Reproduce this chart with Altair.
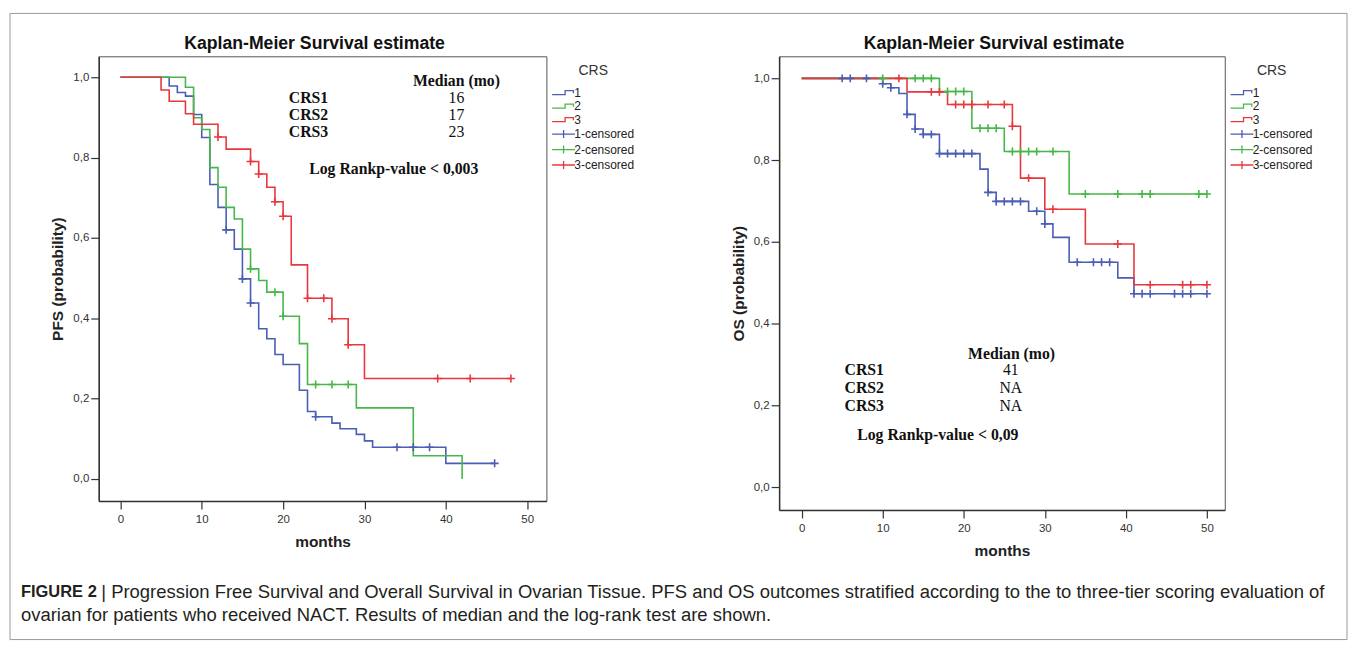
import altair as alt
import pandas as pd

BLUE = "#4b5eb4"
GREEN = "#47b74a"
RED = "#e8383d"

X_TICKS = [0, 10, 20, 30, 40, 50]
Y_TICKS = [0.0, 0.2, 0.4, 0.6, 0.8, 1.0]

# ---------------- PFS (left panel) ----------------
pfs1_t = [0, 6, 7, 8, 9, 10, 11, 12, 13, 14, 15, 16, 17, 18, 19, 20, 22, 23, 24, 26, 27, 29, 30, 31, 40, 46]
pfs1_s = [1.0, 0.978, 0.962, 0.953, 0.907, 0.850, 0.733, 0.676, 0.620, 0.572, 0.498, 0.438, 0.374, 0.349,
          0.310, 0.285, 0.221, 0.168, 0.155, 0.139, 0.125, 0.111, 0.095, 0.079, 0.039, 0.039]
pfs1_ct = [13, 15, 16, 24, 34, 36, 38, 46]
pfs1_cs = [0.620, 0.498, 0.438, 0.155, 0.079, 0.079, 0.079, 0.039]

pfs2_t = [0, 8, 9, 10, 11, 12, 13, 14, 15, 16, 17, 18, 20, 22, 23, 29, 36, 42]
pfs2_s = [1.0, 0.975, 0.899, 0.870, 0.775, 0.726, 0.676, 0.647, 0.572, 0.523, 0.494, 0.465, 0.405,
          0.337, 0.235, 0.177, 0.058, 0.0]
pfs2_ct = [16, 19, 20, 24, 26, 28]
pfs2_cs = [0.523, 0.465, 0.405, 0.235, 0.235, 0.235]

pfs3_t = [0, 5, 6, 8, 9, 12, 13, 16, 17, 18, 19, 20, 21, 23, 26, 28, 30, 48]
pfs3_s = [1.0, 0.968, 0.940, 0.909, 0.883, 0.851, 0.821, 0.790, 0.759, 0.726, 0.690, 0.654, 0.533,
          0.450, 0.399, 0.334, 0.250, 0.250]
pfs3_ct = [12, 16, 17, 19, 20, 23, 25, 26, 28, 39, 43, 48]
pfs3_cs = [0.851, 0.790, 0.759, 0.690, 0.654, 0.450, 0.450, 0.399, 0.334, 0.250, 0.250, 0.250]

# ---------------- OS (right panel) ----------------
os1_t = [0, 10, 11, 12, 13, 14, 15, 17, 22, 23, 24, 28, 30, 31, 33, 39, 41, 50]
os1_s = [1.0, 0.987, 0.977, 0.963, 0.912, 0.876, 0.863, 0.816, 0.778, 0.721, 0.699, 0.675, 0.644,
         0.611, 0.550, 0.512, 0.473, 0.473]
os1_ct = [5, 6, 8, 10, 11, 13, 14, 15, 16, 17, 18, 19, 20, 21, 23, 24, 25, 26, 27, 29, 30,
          34, 36, 37, 38, 41, 42, 43, 46, 47, 48, 50]
os1_cs = [1.0, 1.0, 1.0, 0.987, 0.977, 0.912, 0.876, 0.863, 0.863, 0.816, 0.816, 0.816, 0.816, 0.816,
          0.721, 0.699, 0.699, 0.699, 0.699, 0.675, 0.644, 0.550, 0.550, 0.550, 0.550,
          0.473, 0.473, 0.473, 0.473, 0.473, 0.473, 0.473]

os2_t = [0, 17, 21, 25, 33, 50]
os2_s = [1.0, 0.968, 0.878, 0.821, 0.717, 0.717]
os2_ct = [10, 14, 15, 16, 18, 19, 20, 22, 23, 24, 26, 27, 28, 29, 31, 35, 39, 42, 43, 49, 50]
os2_cs = [1.0, 1.0, 1.0, 1.0, 0.968, 0.968, 0.968, 0.878, 0.878, 0.878, 0.821, 0.821, 0.821, 0.821,
          0.821, 0.717, 0.717, 0.717, 0.717, 0.717, 0.717]

os3_t = [0, 13, 18, 26, 27, 30, 35, 41, 50]
os3_s = [1.0, 0.967, 0.936, 0.883, 0.756, 0.680, 0.595, 0.495, 0.495]
os3_ct = [12, 16, 17, 19, 20, 21, 23, 25, 26, 28, 31, 39, 43, 47, 48, 50]
os3_cs = [1.0, 0.967, 0.967, 0.936, 0.936, 0.936, 0.936, 0.936, 0.883, 0.756, 0.680, 0.595,
          0.495, 0.495, 0.495, 0.495]

# ---------------- legend ----------------
LEGEND_LABELS = ["1", "2", "3", "1-censored", "2-censored", "3-censored"]
LEGEND_COLORS = [BLUE, GREEN, RED, BLUE, GREEN, RED]
STEP_GLYPH = "M-1,0.35L1.27,0.35L1.27,-0.35L2.72,-0.35L2.72,0.1"
CENS_GLYPH = "M-1,0L3,0M1,-0.7L1,0.7"
LEGEND_SHAPES = [STEP_GLYPH] * 3 + [CENS_GLYPH] * 3
CROSS = "M-1,0L1,0M0,-1L0,1"

# ---------------- annotations ----------------
pfs_head_txt = ["Median (mo)", "Log Rankp-value < 0,003"]
pfs_head_t = [41.3, 33.6]
pfs_head_s = [0.990, 0.771]
pfs_grp_txt = ["CRS1", "CRS2", "CRS3"]
pfs_grp_t = [20.7, 20.7, 20.7]
pfs_grp_s = [0.948, 0.907, 0.863]
pfs_val_txt = ["16", "17", "23"]
pfs_val_t = [41.3, 41.3, 41.3]
pfs_val_s = [0.948, 0.907, 0.863]

os_head_txt = ["Median (mo)", "Log Rankp-value < 0,09"]
os_head_t = [25.9, 16.8]
os_head_s = [0.325, 0.128]
os_grp_txt = ["CRS1", "CRS2", "CRS3"]
os_grp_t = [5.3, 5.3, 5.3]
os_grp_s = [0.286, 0.243, 0.198]
os_val_txt = ["41", "NA", "NA"]
os_val_t = [25.8, 25.8, 25.8]
os_val_s = [0.286, 0.243, 0.198]

CHART_TITLE = "Kaplan-Meier Survival estimate"
CAPTION_BOLD = "FIGURE 2"
CAPTION_1 = ("| Progression Free Survival and Overall Survival in Ovarian Tissue. PFS and OS outcomes "
             "stratified according to the to three-tier scoring evaluation of")
CAPTION_2 = "ovarian for patients who received NACT. Results of median and the log-rank test are shown."

SANS = "Liberation Sans"
SERIF = "Liberation Serif"


def curves(groups):
    rows = []
    for name, col, ts, ss in groups:
        for t, s in zip(ts, ss):
            rows.append({"t": t, "s": s, "g": name, "col": col})
    return pd.DataFrame(rows)


def notes(ts, ss, txts):
    return pd.DataFrame({"t": ts, "s": ss, "txt": txts})


def km_panel(line_df, cens_df, heads, grps, vals, xdom, ydom, w, h, ytitle, extra=()):
    xenc = alt.X("t:Q", scale=alt.Scale(domain=xdom, nice=False, zero=False),
                 axis=alt.Axis(values=X_TICKS, title="months", format="d",
                               labelPadding=5, titlePadding=9))
    yenc = alt.Y("s:Q", scale=alt.Scale(domain=ydom, nice=False, zero=False),
                 axis=alt.Axis(values=Y_TICKS, title=ytitle, labelPadding=2, titlePadding=7,
                               labelExpr="replace(format(datum.value, '.1f'), '.', ',')"))
    lines = alt.Chart(line_df).mark_line(interpolate="step-after", strokeWidth=1.6, clip=True).encode(
        x=xenc, y=yenc, color=alt.Color("col:N", scale=None), detail="g:N")
    cens = alt.Chart(cens_df).mark_point(shape=CROSS, size=64, filled=False, strokeWidth=1.6,
                                         opacity=1).encode(
        x=xenc, y=yenc, color=alt.Color("col:N", scale=None))
    leg = alt.Legend(title="CRS", orient="none", legendX=w + 5, legendY=8, symbolOpacity=1)
    legend_layer = alt.Chart(pd.DataFrame({"lg": LEGEND_LABELS})).mark_point(
        filled=False, opacity=0).encode(
        color=alt.Color("lg:N", scale=alt.Scale(domain=LEGEND_LABELS, range=LEGEND_COLORS), legend=leg),
        shape=alt.Shape("lg:N", scale=alt.Scale(domain=LEGEND_LABELS, range=LEGEND_SHAPES), legend=leg),
    )
    t_head = alt.Chart(heads).mark_text(font=SERIF, fontSize=15.8, fontWeight="bold", align="center",
                                        baseline="middle", color="#111").encode(
        x=xenc, y=yenc, text="txt:N")
    t_grp = alt.Chart(grps).mark_text(font=SERIF, fontSize=15.8, fontWeight="bold", align="left",
                                      baseline="middle", color="#111").encode(
        x=xenc, y=yenc, text="txt:N")
    t_val = alt.Chart(vals).mark_text(font=SERIF, fontSize=15.8, align="center",
                                      baseline="middle", color="#111").encode(
        x=xenc, y=yenc, text="txt:N")
    title = alt.Chart(alt.Data(values=[{"txt": CHART_TITLE}])).mark_text(
        font=SANS, fontSize=17.7, fontWeight="bold", align="center", baseline="middle", color="#111").encode(
        x=alt.value(w / 2 - 8), y=alt.value(-12), text="txt:N")
    layers = [lines, cens, legend_layer, t_head, t_grp, t_val, title] + list(extra)
    return alt.layer(*layers).properties(width=w, height=h)


pfs_lines = curves([("1", BLUE, pfs1_t, pfs1_s), ("2", GREEN, pfs2_t, pfs2_s), ("3", RED, pfs3_t, pfs3_s)])
pfs_cens = curves([("1", BLUE, pfs1_ct, pfs1_cs), ("2", GREEN, pfs2_ct, pfs2_cs), ("3", RED, pfs3_ct, pfs3_cs)])
os_lines = curves([("1", BLUE, os1_t, os1_s), ("2", GREEN, os2_t, os2_s), ("3", RED, os3_t, os3_s)])
os_cens = curves([("1", BLUE, os1_ct, os1_cs), ("2", GREEN, os2_ct, os2_cs), ("3", RED, os3_ct, os3_cs)])

# decorative figure frame and caption (placed relative to the left panel)
one = alt.Data(values=[{}])
frame = alt.Chart(one).mark_rect(fillOpacity=0, stroke="#9a9a9a", strokeWidth=1, clip=False).encode(
    x=alt.value(-89), x2=alt.value(1252), y=alt.value(-43), y2=alt.value(585))
cap_b = alt.Chart(alt.Data(values=[{"txt": CAPTION_BOLD}])).mark_text(
    font=SANS, fontSize=16.5, fontWeight="bold", align="left", baseline="middle", color="#231f20").encode(
    x=alt.value(-78), y=alt.value(537), text="txt:N")
cap_1 = alt.Chart(alt.Data(values=[{"txt": CAPTION_1}])).mark_text(
    font=SANS, fontSize=18.5, align="left", baseline="middle", color="#231f20").encode(
    x=alt.value(2.5), y=alt.value(537), text="txt:N")
cap_2 = alt.Chart(alt.Data(values=[{"txt": CAPTION_2}])).mark_text(
    font=SANS, fontSize=18.5, align="left", baseline="middle", color="#231f20").encode(
    x=alt.value(-78), y=alt.value(560), text="txt:N")

left = km_panel(pfs_lines, pfs_cens,
                notes(pfs_head_t, pfs_head_s, pfs_head_txt),
                notes(pfs_grp_t, pfs_grp_s, pfs_grp_txt),
                notes(pfs_val_t, pfs_val_s, pfs_val_txt),
                [-2.66, 52.36], [-0.0547, 1.052], 449, 446, "PFS (probability)",
                extra=(frame, cap_b, cap_1, cap_2))
right = km_panel(os_lines, os_cens,
                 notes(os_head_t, os_head_s, os_head_txt),
                 notes(os_grp_t, os_grp_s, os_grp_txt),
                 notes(os_val_t, os_val_s, os_val_txt),
                 [-2.78, 52.2], [-0.0558, 1.054], 447, 455, "OS (probability)")

chart = alt.hconcat(left, right, spacing=233.4, bounds="flush").resolve_scale(
    color="independent", shape="independent"
).resolve_legend(
    color="independent", shape="independent"
).properties(
    padding={"left": 1, "top": 3.5, "right": 2, "bottom": 2},
    background="white",
).configure_view(
    fill="#f0f0f0", stroke="#555555", strokeWidth=1
).configure_axis(
    labelFont=SANS, labelFontSize=11.5, labelColor="#333333",
    titleFont=SANS, titleFontSize=15.5, titleFontWeight="bold", titleColor="#222222",
    domainColor="#333333", domainWidth=1.5, tickColor="#333333", tickWidth=1.2, tickSize=8, grid=False,
).configure_legend(
    titleFont=SANS, titleFontSize=14, titleFontWeight="normal", titleColor="#333333",
    labelFont=SANS, labelFontSize=12, labelColor="#222222", labelOffset=10,
    symbolSize=132, symbolStrokeWidth=1.3, padding=0, rowPadding=0.5,
    titleAnchor="middle", titlePadding=8,
)

chart.save("out.html", embed_options={"renderer": "svg", "actions": False})
